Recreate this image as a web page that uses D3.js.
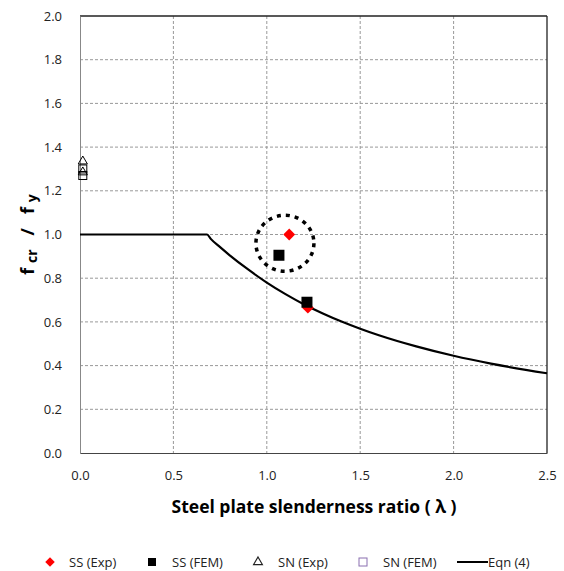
<!DOCTYPE html>
<html>
<head>
<meta charset="utf-8">
<script src="https://cdn.jsdelivr.net/npm/d3@7"></script>
<style>
  body { margin: 0; background: #fff; }
  text { font-family: "Open Sans", "Noto Sans", sans-serif; }
</style>
</head>
<body>
<div id="chart"></div>
<script>
// data
const ssExp = [[1.12, 1.00], [1.22, 0.665]];
const ssFem = [[1.065, 0.905], [1.215, 0.69]];
const snExp = [[0.015, 1.335], [0.015, 1.285]];
const snFem = [[0.015, 1.30], [0.015, 1.27]];
const eqnLambda = [0, 0.5, 0.68, 0.7, 0.75, 0.8, 0.9, 1.0, 1.1, 1.2, 1.3, 1.4, 1.5, 1.6, 1.8, 2.0, 2.2, 2.5];
const eqnValue  = [1, 1, 1, 0.98, 0.942, 0.906, 0.84, 0.78, 0.727, 0.68, 0.639, 0.602, 0.569, 0.539, 0.488, 0.445, 0.409, 0.365];
const xTicks = [0, 0.5, 1.0, 1.5, 2.0, 2.5];
const yTicks = [0, 0.2, 0.4, 0.6, 0.8, 1.0, 1.2, 1.4, 1.6, 1.8, 2.0];

const W = 564, H = 571;
const margin = {top: 16, right: 17, bottom: 118, left: 80};
const width = W - margin.left - margin.right;
const height = H - margin.top - margin.bottom;

const svg = d3.select("#chart").append("svg")
    .attr("width", W)
    .attr("height", H);

const x = d3.scaleLinear().domain([0, 2.5]).range([0, width]);
const y = d3.scaleLinear().domain([0, 2]).range([height, 0]);

const g = svg.append("g")
    .attr("transform", "translate(" + margin.left + "," + margin.top + ")");

// grid
g.selectAll(".vgrid").data(xTicks.slice(1, -1)).enter().append("line")
    .attr("x1", d => x(d)).attr("x2", d => x(d))
    .attr("y1", 0).attr("y2", height)
    .attr("stroke", "#999").attr("stroke-dasharray", "3,2");
g.selectAll(".hgrid").data(yTicks.slice(1, -1)).enter().append("line")
    .attr("x1", 0).attr("x2", width)
    .attr("y1", d => y(d)).attr("y2", d => y(d))
    .attr("stroke", "#999").attr("stroke-dasharray", "3,2");

// frame
g.append("line").attr("x1", 0).attr("x2", width).attr("y1", 0).attr("y2", 0).attr("stroke", "#222").attr("stroke-width", 1.3);
g.append("line").attr("x1", width).attr("x2", width).attr("y1", 0).attr("y2", height).attr("stroke", "#222").attr("stroke-width", 1.3);

// axes
const fmt = d => d.toFixed(1);
const yAxis = g.append("g")
    .call(d3.axisLeft(y).tickValues(yTicks).tickFormat(fmt).tickSize(0).tickPadding(18));
yAxis.select(".domain").attr("stroke", "#888");
yAxis.selectAll("text").attr("font-size", 13).attr("fill", "#222");

const xAxis = g.append("g")
    .attr("transform", "translate(0," + height + ")")
    .call(d3.axisBottom(x).tickValues(xTicks).tickFormat(fmt).tickSize(0).tickPadding(18));
xAxis.select(".domain").attr("stroke", "#444");
xAxis.selectAll("text").attr("font-size", 13).attr("fill", "#222");

// axis titles
svg.append("text")
    .attr("x", 314)
    .attr("y", 513)
    .attr("text-anchor", "middle")
    .attr("font-family", "Liberation Sans, Arial, sans-serif")
    .attr("font-weight", "bold")
    .attr("font-size", 17.5)
    .text("Steel plate slenderness ratio ( \u03bb )");

const yt = svg.append("text")
    .attr("transform", "translate(34," + (margin.top + y(1.0)) + ") rotate(-90)")
    .attr("text-anchor", "middle")
    .attr("font-family", "Liberation Sans, Arial, sans-serif")
    .attr("font-weight", "bold")
    .attr("font-size", 18);
yt.append("tspan").text("f\u00a0");
yt.append("tspan").attr("font-size", 14).attr("dy", 3).text("cr");
yt.append("tspan").attr("dy", -3).text("\u00a0\u00a0\u00a0/\u00a0\u00a0\u00a0f\u00a0");
yt.append("tspan").attr("font-size", 14).attr("dy", 3).text("y");

// equation curve
const line = d3.line()
    .x(d => x(d[0])).y(d => y(d[1]))
    .curve(d3.curveMonotoneX);
g.append("path")
    .datum(eqnLambda.map((l, i) => [l, eqnValue[i]]))
    .attr("fill", "none")
    .attr("stroke", "#000")
    .attr("stroke-width", 2.2)
    .attr("d", line);

// dashed ellipse
g.append("ellipse")
    .attr("cx", x(1.097)).attr("cy", y(0.96))
    .attr("rx", 29).attr("ry", 28)
    .attr("fill", "none").attr("stroke", "#000")
    .attr("stroke-width", 3.5).attr("stroke-dasharray", "4,5");

// SN markers
g.selectAll(".snexp").data(snExp).enter().append("path")
    .attr("transform", d => "translate(" + x(d[0]) + "," + y(d[1]) + ")")
    .attr("d", d3.symbol().type(d3.symbolTriangle2 || d3.symbolTriangle).size(60))
    .attr("fill", "none").attr("stroke", "#000").attr("stroke-width", 1);
g.selectAll(".snfem").data(snFem).enter().append("rect")
    .attr("x", d => x(d[0]) - 4).attr("y", d => y(d[1]) - 4)
    .attr("width", 8).attr("height", 8)
    .attr("fill", "none").attr("stroke", "#000").attr("stroke-width", 1);

// SS markers
g.selectAll(".ssexp").data(ssExp).enter().append("path")
    .attr("d", d3.symbol().type(d3.symbolSquare).size(70))
    .attr("transform", d => "translate(" + x(d[0]) + "," + y(d[1]) + ") rotate(45)")
    .attr("fill", "#f00");
g.selectAll(".ssfem").data(ssFem).enter().append("rect")
    .attr("x", d => x(d[0]) - 5.5).attr("y", d => y(d[1]) - 5.5)
    .attr("width", 11).attr("height", 11)
    .attr("fill", "#000");

// legend
const legend = svg.append("g").attr("transform", "translate(0,562)");
const items = [
  {label: "SS (Exp)", x: 50, tx: 69},
  {label: "SS (FEM)", x: 152, tx: 172},
  {label: "SN (Exp)", x: 258, tx: 278},
  {label: "SN (FEM)", x: 363, tx: 383},
  {label: "Eqn (4)", x: 472, tx: 488}
];
legend.append("path")
    .attr("transform", "translate(" + items[0].x + ",0) rotate(45)")
    .attr("d", d3.symbol().type(d3.symbolSquare).size(45))
    .attr("fill", "#f00");
legend.append("rect").attr("x", items[1].x - 4).attr("y", -4).attr("width", 8).attr("height", 8).attr("fill", "#000");
legend.append("path")
    .attr("transform", "translate(" + items[2].x + ",0)")
    .attr("d", d3.symbol().type(d3.symbolTriangle2 || d3.symbolTriangle).size(55))
    .attr("fill", "none").attr("stroke", "#222").attr("stroke-width", 1.2);
legend.append("rect").attr("x", items[3].x - 4).attr("y", -4).attr("width", 8).attr("height", 8)
    .attr("fill", "none").attr("stroke", "#8a6fb0");
legend.append("line").attr("x1", 457).attr("x2", 488).attr("y1", 0).attr("y2", 0)
    .attr("stroke", "#000").attr("stroke-width", 2);
legend.selectAll(".lt").data(items).enter().append("text")
    .attr("x", d => d.tx).attr("y", 0).attr("dy", "0.35em")
    .attr("font-size", 13).attr("fill", "#222")
    .text(d => d.label);
</script>
</body>
</html>
